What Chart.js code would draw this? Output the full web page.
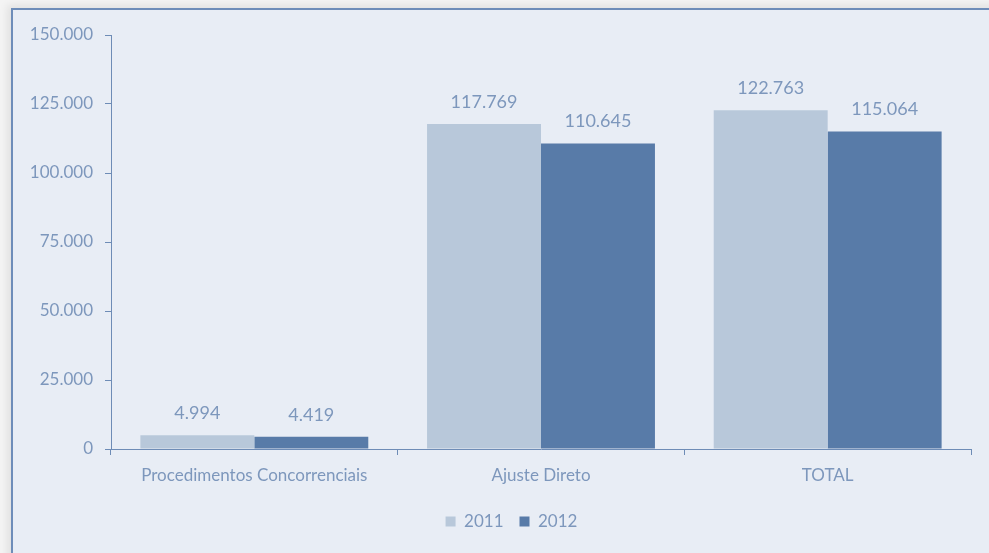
<!DOCTYPE html>
<html>
<head>
<meta charset="utf-8">
<script src="https://cdn.jsdelivr.net/npm/chart.js@4.4.0/dist/chart.umd.min.js"></script>
<style>
  html, body { margin: 0; padding: 0; background: #f4f4f4; overflow: hidden; }
  #frame {
    position: absolute; left: 11px; top: 8px; width: 990px; height: 560px;
    background: #e8edf5;
    border-left: 2px solid #6e8db9; border-top: 2px solid #6e8db9;
    box-shadow: -4px -3px 8px rgba(0,0,0,0.08);
  }
  #wrap { position: absolute; left: 0; top: 0; width: 989px; height: 553px; }
</style>
</head>
<body>
<div id="frame"></div>
<div id="wrap"><canvas id="chart"></canvas></div>
<script>
  // Contratos por tipo de procedimento
  const categories = ['Procedimentos Concorrenciais', 'Ajuste Direto', 'TOTAL'];
  const values2011 = [4994, 117769, 122763];
  const values2012 = [4419, 110645, 115064];
  const yTicks = [0, 25000, 50000, 75000, 100000, 125000, 150000];

  const textColor = '#7d97bc';
  const axisColor = '#6e8cb6';
  const fontFamily = "Lato, 'Open Sans', sans-serif";
  const fontSize = 17;

  function fmt(v) {
    return v.toString().replace(/\B(?=(\d{3})+(?!\d))/g, '.');
  }

  // value labels above each bar
  const barLabels = {
    id: 'barLabels',
    afterDatasetsDraw(chart) {
      const ctx = chart.ctx;
      ctx.save();
      ctx.fillStyle = textColor;
      ctx.font = '18px ' + fontFamily;
      ctx.textAlign = 'center';
      ctx.textBaseline = 'middle';
      chart.data.datasets.forEach((ds, i) => {
        chart.getDatasetMeta(i).data.forEach((bar, j) => {
          ctx.fillText(fmt(ds.data[j]), bar.x, bar.y - 22);
        });
      });
      ctx.restore();
    }
  };

  // legend sits a little right of the canvas centre
  const legendShift = {
    id: 'legendShift',
    afterLayout(chart) {
      chart.legend.left += 26;
      chart.legend.right += 26;
    }
  };

  Chart.defaults.font.family = fontFamily;
  Chart.defaults.font.size = fontSize;
  Chart.defaults.color = textColor;

  const ctx = document.getElementById('chart').getContext('2d');
  new Chart(ctx, {
    type: 'bar',
    data: {
      labels: categories,
      datasets: [
        { label: '2011', data: values2011, backgroundColor: '#b8c8da' },
        { label: '2012', data: values2012, backgroundColor: '#587ba8' }
      ]
    },
    options: {
      responsive: true,
      maintainAspectRatio: false,
      animation: false,
      layout: { padding: { top: 35, right: 18, left: 0, bottom: 13 } },
      datasets: { bar: { categoryPercentage: 0.795, barPercentage: 1 } },
      plugins: {
        legend: {
          position: 'bottom',
          labels: { boxWidth: 10, boxHeight: 10, color: textColor, padding: 16, font: { size: fontSize } }
        },
        tooltip: { enabled: false }
      },
      scales: {
        x: {
          grid: { drawOnChartArea: false, drawTicks: true, tickLength: 6, color: axisColor, offset: true },
          border: { display: true, color: axisColor, width: 1 },
          ticks: { color: textColor, padding: 10, maxRotation: 0, font: { size: fontSize } },
          afterFit(scale) { scale.height = 48; }
        },
        y: {
          min: 0,
          max: 150000,
          afterBuildTicks(scale) { scale.ticks = yTicks.map(v => ({ value: v })); },
          grid: { drawOnChartArea: false, drawTicks: true, tickLength: 6, color: axisColor },
          border: { display: true, color: axisColor, width: 1 },
          ticks: { color: textColor, padding: 12, callback: v => fmt(v), font: { size: fontSize } },
          afterFit(scale) { scale.width = 111; }
        }
      }
    },
    plugins: [barLabels, legendShift]
  });
</script>
</body>
</html>
